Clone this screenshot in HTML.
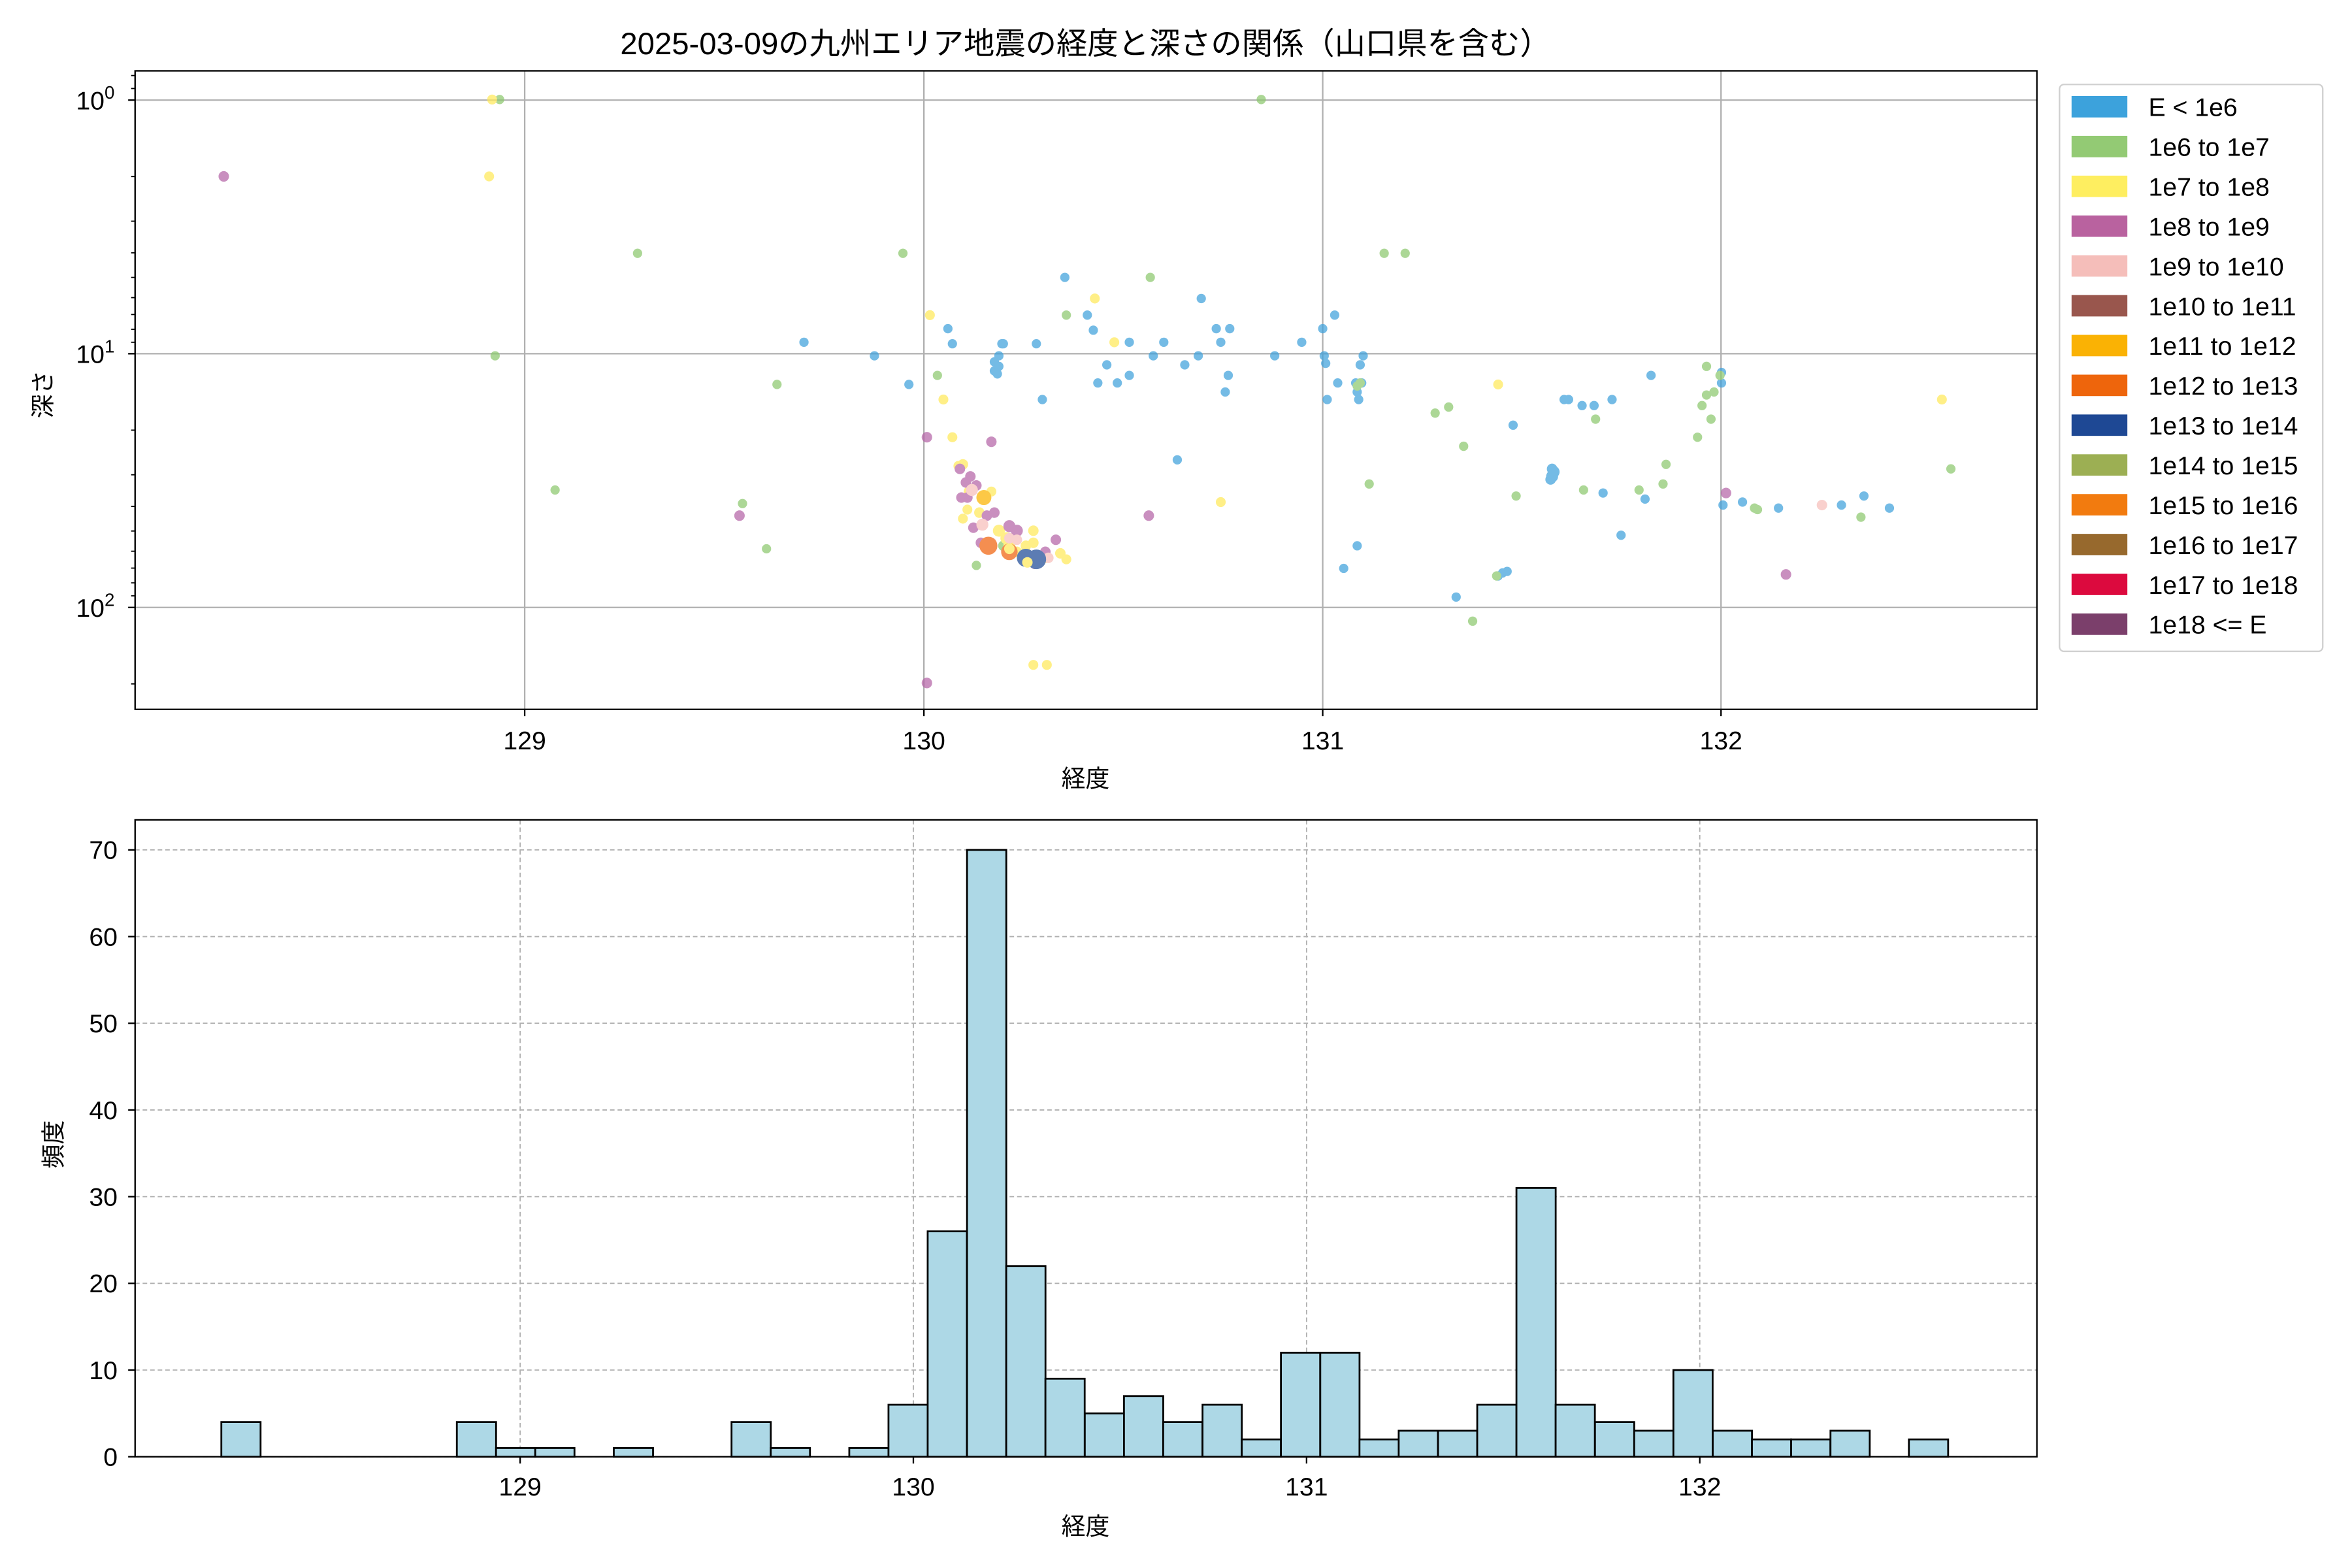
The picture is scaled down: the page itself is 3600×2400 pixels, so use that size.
<!DOCTYPE html>
<html><head><meta charset="utf-8"><style>
html,body{margin:0;padding:0;background:#fff;}
svg{display:block;}
text{font-family:"Liberation Sans","Noto Sans CJK JP",sans-serif;fill:#000;}
</style></head><body>
<svg width="3600" height="2400" viewBox="0 0 1560 1040" xmlns="http://www.w3.org/2000/svg">
<rect width="1560" height="1040" fill="#fff"/>
<text x="720" y="36" font-size="20.5" text-anchor="middle">2025-03-09の九州エリア地震の経度と深さの関係（山口県を含む）</text>

<!-- TOP AXES -->
<g stroke="#b0b0b0" stroke-width="1">
<line x1="348" y1="47" x2="348" y2="470.5"/><line x1="612.8" y1="47" x2="612.8" y2="470.5"/>
<line x1="877.3" y1="47" x2="877.3" y2="470.5"/><line x1="1141.5" y1="47" x2="1141.5" y2="470.5"/>
<line x1="89.6" y1="66.4" x2="1351" y2="66.4"/><line x1="89.6" y1="234.6" x2="1351" y2="234.6"/><line x1="89.6" y1="402.9" x2="1351" y2="402.9"/>
</g>
<g transform="translate(612.8 0) scale(0.9944 1) translate(-615 0)" stroke-width="1" opacity="0.72">
<g fill="#3fa1dc" stroke="#3fa1dc">
<circle cx="535" cy="227" r="2.6"/><circle cx="582" cy="236" r="2.6"/><circle cx="605" cy="255" r="2.6"/><circle cx="631" cy="218" r="2.6"/><circle cx="634" cy="228" r="2.6"/><circle cx="662" cy="240" r="2.6"/><circle cx="662" cy="246" r="2.6"/><circle cx="664" cy="248" r="2.6"/><circle cx="665" cy="243" r="2.6"/><circle cx="667" cy="228" r="2.6"/><circle cx="665" cy="236" r="2.6"/><circle cx="668" cy="228" r="2.6"/><circle cx="690" cy="228" r="2.6"/><circle cx="694" cy="265" r="2.6"/><circle cx="709" cy="184" r="2.6"/><circle cx="724" cy="209" r="2.6"/><circle cx="728" cy="219" r="2.6"/><circle cx="731" cy="254" r="2.6"/><circle cx="737" cy="242" r="2.6"/><circle cx="744" cy="254" r="2.6"/><circle cx="752" cy="227" r="2.6"/><circle cx="752" cy="249" r="2.6"/><circle cx="768" cy="236" r="2.6"/><circle cx="775" cy="227" r="2.6"/><circle cx="784" cy="305" r="2.6"/><circle cx="789" cy="242" r="2.6"/><circle cx="798" cy="236" r="2.6"/><circle cx="810" cy="218" r="2.6"/><circle cx="813" cy="227" r="2.6"/><circle cx="816" cy="260" r="2.6"/><circle cx="818" cy="249" r="2.6"/><circle cx="819" cy="218" r="2.6"/><circle cx="800" cy="198" r="2.6"/><circle cx="849" cy="236" r="2.6"/><circle cx="867" cy="227" r="2.6"/><circle cx="881" cy="218" r="2.6"/><circle cx="882" cy="236" r="2.6"/><circle cx="883" cy="241" r="2.6"/><circle cx="884" cy="265" r="2.6"/><circle cx="889" cy="209" r="2.6"/><circle cx="891" cy="254" r="2.6"/><circle cx="903" cy="254" r="2.6"/><circle cx="904" cy="260" r="2.6"/><circle cx="905" cy="265" r="2.6"/><circle cx="906" cy="242" r="2.6"/><circle cx="907" cy="254" r="2.6"/><circle cx="908" cy="236" r="2.6"/><circle cx="904" cy="362" r="2.6"/><circle cx="895" cy="377" r="2.6"/><circle cx="970" cy="396" r="2.6"/><circle cx="998" cy="382" r="2.6"/><circle cx="1001" cy="380" r="2.6"/><circle cx="1004" cy="379" r="2.6"/><circle cx="1008" cy="282" r="2.6"/><circle cx="1034" cy="316" r="3.5"/><circle cx="1035" cy="313" r="3.5"/><circle cx="1034" cy="311" r="3"/><circle cx="1033" cy="318" r="3"/><circle cx="1042" cy="265" r="2.6"/><circle cx="1045" cy="265" r="2.6"/><circle cx="1054" cy="269" r="2.6"/><circle cx="1062" cy="269" r="2.6"/><circle cx="1074" cy="265" r="2.6"/><circle cx="1068" cy="327" r="2.6"/><circle cx="1080" cy="355" r="2.6"/><circle cx="1096" cy="331" r="2.6"/><circle cx="1100" cy="249" r="2.6"/><circle cx="1148" cy="335" r="2.6"/><circle cx="1147" cy="247" r="2.6"/><circle cx="1147" cy="254" r="2.6"/><circle cx="1161" cy="333" r="2.6"/><circle cx="1185" cy="337" r="2.6"/><circle cx="1227" cy="335" r="2.6"/><circle cx="1242" cy="329" r="2.6"/><circle cx="1259" cy="337" r="2.6"/>
</g>
<g fill="#8dc96f" stroke="#8dc96f">
<circle cx="332" cy="66" r="2.6"/><circle cx="329" cy="236" r="2.6"/><circle cx="369" cy="325" r="2.6"/><circle cx="424" cy="168" r="2.6"/><circle cx="494" cy="334" r="2.6"/><circle cx="510" cy="364" r="2.6"/><circle cx="517" cy="255" r="2.6"/><circle cx="601" cy="168" r="2.6"/><circle cx="624" cy="249" r="2.6"/><circle cx="650" cy="375" r="2.6"/><circle cx="710" cy="209" r="2.6"/><circle cx="766" cy="184" r="2.6"/><circle cx="840" cy="66" r="2.6"/><circle cx="904" cy="256" r="2.6"/><circle cx="906" cy="254" r="2.6"/><circle cx="912" cy="321" r="2.6"/><circle cx="922" cy="168" r="2.6"/><circle cx="936" cy="168" r="2.6"/><circle cx="956" cy="274" r="2.6"/><circle cx="965" cy="270" r="2.6"/><circle cx="975" cy="296" r="2.6"/><circle cx="981" cy="412" r="2.6"/><circle cx="997" cy="382" r="2.6"/><circle cx="1010" cy="329" r="2.6"/><circle cx="1055" cy="325" r="2.6"/><circle cx="1063" cy="278" r="2.6"/><circle cx="1092" cy="325" r="2.6"/><circle cx="1108" cy="321" r="2.6"/><circle cx="1110" cy="308" r="2.6"/><circle cx="1131" cy="290" r="2.6"/><circle cx="1134" cy="269" r="2.6"/><circle cx="1137" cy="262" r="2.6"/><circle cx="1137" cy="243" r="2.6"/><circle cx="1140" cy="278" r="2.6"/><circle cx="1142" cy="260" r="2.6"/><circle cx="1169" cy="337" r="2.6"/><circle cx="1171" cy="338" r="2.6"/><circle cx="1240" cy="343" r="2.6"/><circle cx="1300" cy="311" r="2.6"/><circle cx="1146" cy="249" r="2.6"/><circle cx="668" cy="362" r="3"/>
</g>
<g fill="#ffe95a" stroke="#ffe95a">
<circle cx="327" cy="66" r="2.8"/><circle cx="325" cy="117" r="2.8"/><circle cx="619" cy="209" r="2.8"/><circle cx="628" cy="265" r="2.8"/><circle cx="634" cy="290" r="2.8"/><circle cx="638" cy="309" r="2.8"/><circle cx="641" cy="344" r="2.8"/><circle cx="644" cy="338" r="2.8"/><circle cx="660" cy="326" r="2.8"/><circle cx="710" cy="371" r="2.8"/><circle cx="688" cy="441" r="2.8"/><circle cx="697" cy="441" r="2.8"/><circle cx="729" cy="198" r="2.8"/><circle cx="742" cy="227" r="2.8"/><circle cx="813" cy="333" r="2.8"/><circle cx="998" cy="255" r="2.8"/><circle cx="1294" cy="265" r="2.8"/>
<circle cx="641" cy="308" r="3"/><circle cx="645" cy="326" r="3"/><circle cx="652" cy="340" r="3"/><circle cx="665" cy="352" r="3.5"/><circle cx="670" cy="357" r="3.5"/><circle cx="672" cy="362" r="3.5"/><circle cx="677" cy="366" r="3"/><circle cx="688" cy="352" r="3"/><circle cx="688" cy="360" r="3"/><circle cx="696" cy="370" r="3"/><circle cx="706" cy="367" r="3"/><circle cx="657" cy="364" r="3"/><circle cx="683" cy="362" r="3"/>
</g>
<g fill="#b565a7" stroke="#b565a7">
<circle cx="148" cy="117" r="3"/><circle cx="492" cy="342" r="3"/><circle cx="617" cy="290" r="3"/><circle cx="617" cy="453" r="3"/><circle cx="639" cy="311" r="3"/><circle cx="646" cy="316" r="3"/><circle cx="660" cy="293" r="3"/><circle cx="650" cy="322" r="3"/><circle cx="644" cy="330" r="3"/><circle cx="662" cy="340" r="3"/><circle cx="703" cy="358" r="3"/><circle cx="765" cy="342" r="3"/><circle cx="1150" cy="327" r="3"/><circle cx="1190" cy="381" r="3"/>
<circle cx="643" cy="320" r="3"/><circle cx="640" cy="330" r="3"/><circle cx="657" cy="342" r="3"/><circle cx="648" cy="350" r="3"/><circle cx="672" cy="349" r="3.5"/><circle cx="677" cy="352" r="3.5"/><circle cx="653" cy="360" r="3"/><circle cx="689" cy="374" r="3"/><circle cx="696" cy="366" r="3"/>
</g>
<g fill="#f7bfba" stroke="#f7bfba">
<circle cx="1214" cy="335" r="3"/><circle cx="647" cy="325" r="3.5"/><circle cx="654" cy="348" r="3.5"/><circle cx="660" cy="360" r="3"/><circle cx="672" cy="357" r="3"/><circle cx="677" cy="358" r="3"/><circle cx="687" cy="370" r="3"/><circle cx="698" cy="370" r="3"/>
</g>
<g fill="#fbb400" stroke="#fbb400"><circle cx="655" cy="330" r="4.5"/></g>
<g fill="#f0640e" stroke="#f0640e"><circle cx="658" cy="362" r="5.5"/><circle cx="672" cy="366" r="5"/></g>
<g fill="#1e4a96" stroke="#1e4a96"><circle cx="683" cy="370" r="5.5"/><circle cx="690" cy="371" r="6"/></g>
<g fill="#ffe95a" stroke="#ffe95a"><circle cx="684" cy="373" r="3"/><circle cx="672" cy="364" r="3"/></g>
</g>
<rect x="89.6" y="47" width="1261.4" height="423.5" fill="none" stroke="#000" stroke-width="1"/>
<g stroke="#000" stroke-width="1">
<line x1="348" y1="470.5" x2="348" y2="475"/><line x1="612.8" y1="470.5" x2="612.8" y2="475"/><line x1="877.3" y1="470.5" x2="877.3" y2="475"/><line x1="1141.5" y1="470.5" x2="1141.5" y2="475"/>
<line x1="85" y1="66.4" x2="89.6" y2="66.4"/><line x1="85" y1="234.6" x2="89.6" y2="234.6"/><line x1="85" y1="402.9" x2="89.6" y2="402.9"/>
<g stroke-width="0.8">
<line x1="87" y1="50.1" x2="89.6" y2="50.1"/><line x1="87" y1="58.7" x2="89.6" y2="58.7"/>
<line x1="87" y1="117.1" x2="89.6" y2="117.1"/><line x1="87" y1="146.7" x2="89.6" y2="146.7"/><line x1="87" y1="167.7" x2="89.6" y2="167.7"/><line x1="87" y1="184" x2="89.6" y2="184"/><line x1="87" y1="197.4" x2="89.6" y2="197.4"/><line x1="87" y1="208.6" x2="89.6" y2="208.6"/><line x1="87" y1="218.4" x2="89.6" y2="218.4"/><line x1="87" y1="227"  x2="89.6" y2="227"/>
<line x1="87" y1="285.3" x2="89.6" y2="285.3"/><line x1="87" y1="314.9" x2="89.6" y2="314.9"/><line x1="87" y1="335.9" x2="89.6" y2="335.9"/><line x1="87" y1="352.2" x2="89.6" y2="352.2"/><line x1="87" y1="365.6" x2="89.6" y2="365.6"/><line x1="87" y1="376.8" x2="89.6" y2="376.8"/><line x1="87" y1="386.6" x2="89.6" y2="386.6"/><line x1="87" y1="395.2" x2="89.6" y2="395.2"/>
<line x1="87" y1="453.6" x2="89.6" y2="453.6"/>
</g></g>
<g font-size="17" text-anchor="middle">
<text x="348" y="497">129</text><text x="612.8" y="497">130</text><text x="877.3" y="497">131</text><text x="1141.5" y="497">132</text>
</g>
<g font-size="17" text-anchor="end">
<text x="76" y="72.5">10<tspan font-size="12" dy="-7">0</tspan></text>
<text x="76" y="240.7">10<tspan font-size="12" dy="-7">1</tspan></text>
<text x="76" y="409">10<tspan font-size="12" dy="-7">2</tspan></text>
</g>
<text x="720" y="522" font-size="16" text-anchor="middle">経度</text>
<text transform="translate(34 261.5) rotate(-90)" font-size="16" text-anchor="middle">深さ</text>

<!-- legend -->
<rect x="1366" y="56" width="174.6" height="376" rx="3" fill="#fff" stroke="#d0d0d0" stroke-width="1"/>
<g>
<rect x="1374" y="63.7" width="37" height="14.2" fill="#3ca2dc"/>
<rect x="1374" y="90.1" width="37" height="14.2" fill="#93ca74"/>
<rect x="1374" y="116.5" width="37" height="14.2" fill="#feee60"/>
<rect x="1374" y="142.9" width="37" height="14.2" fill="#b9629f"/>
<rect x="1374" y="169.3" width="37" height="14.2" fill="#f5beba"/>
<rect x="1374" y="195.7" width="37" height="14.2" fill="#99564d"/>
<rect x="1374" y="222.1" width="37" height="14.2" fill="#fab204"/>
<rect x="1374" y="248.5" width="37" height="14.2" fill="#ee650c"/>
<rect x="1374" y="274.9" width="37" height="14.2" fill="#1e4894"/>
<rect x="1374" y="301.3" width="37" height="14.2" fill="#9caf53"/>
<rect x="1374" y="327.7" width="37" height="14.2" fill="#f27b0f"/>
<rect x="1374" y="354.1" width="37" height="14.2" fill="#97692d"/>
<rect x="1374" y="380.5" width="37" height="14.2" fill="#dc0a3e"/>
<rect x="1374" y="406.9" width="37" height="14.2" fill="#7b3f6b"/>
</g>
<g font-size="17">
<text x="1425" y="77">E &lt; 1e6</text><text x="1425" y="103.4">1e6 to 1e7</text><text x="1425" y="129.8">1e7 to 1e8</text><text x="1425" y="156.2">1e8 to 1e9</text><text x="1425" y="182.6">1e9 to 1e10</text><text x="1425" y="209">1e10 to 1e11</text><text x="1425" y="235.4">1e11 to 1e12</text><text x="1425" y="261.8">1e12 to 1e13</text><text x="1425" y="288.2">1e13 to 1e14</text><text x="1425" y="314.6">1e14 to 1e15</text><text x="1425" y="341">1e15 to 1e16</text><text x="1425" y="367.4">1e16 to 1e17</text><text x="1425" y="393.8">1e17 to 1e18</text><text x="1425" y="420.2">1e18 &lt;= E</text>
</g>

<!-- BOTTOM AXES -->
<g stroke="#b0b0b0" stroke-width="0.8" stroke-dasharray="3,2">
<line x1="345" y1="543.8" x2="345" y2="966.2"/><line x1="605.8" y1="543.8" x2="605.8" y2="966.2"/><line x1="866.6" y1="543.8" x2="866.6" y2="966.2"/><line x1="1127.4" y1="543.8" x2="1127.4" y2="966.2"/>
<line x1="89.6" y1="966.2" x2="1351" y2="966.2"/><line x1="89.6" y1="908.7" x2="1351" y2="908.7"/><line x1="89.6" y1="851.2" x2="1351" y2="851.2"/><line x1="89.6" y1="793.7" x2="1351" y2="793.7"/><line x1="89.6" y1="736.2" x2="1351" y2="736.2"/><line x1="89.6" y1="678.7" x2="1351" y2="678.7"/><line x1="89.6" y1="621.2" x2="1351" y2="621.2"/><line x1="89.6" y1="563.7" x2="1351" y2="563.7"/>
</g>
<g fill="#add8e6" stroke="#000" stroke-width="1.2">
<rect x="146.8" y="943.2" width="26.03" height="23"/>
<rect x="303" y="943.2" width="26.03" height="23"/>
<rect x="329" y="960.45" width="26.03" height="5.75"/>
<rect x="355" y="960.45" width="26.03" height="5.75"/>
<rect x="407.1" y="960.45" width="26.03" height="5.75"/>
<rect x="485.2" y="943.2" width="26.03" height="23"/>
<rect x="511.2" y="960.45" width="26.03" height="5.75"/>
<rect x="563.3" y="960.45" width="26.03" height="5.75"/>
<rect x="589.3" y="931.7" width="26.03" height="34.5"/>
<rect x="615.3" y="816.7" width="26.03" height="149.5"/>
<rect x="641.4" y="563.7" width="26.03" height="402.5"/>
<rect x="667.4" y="839.7" width="26.03" height="126.5"/>
<rect x="693.4" y="914.45" width="26.03" height="51.75"/>
<rect x="719.5" y="937.45" width="26.03" height="28.75"/>
<rect x="745.5" y="925.95" width="26.03" height="40.25"/>
<rect x="771.5" y="943.2" width="26.03" height="23"/>
<rect x="797.6" y="931.7" width="26.03" height="34.5"/>
<rect x="823.6" y="954.7" width="26.03" height="11.5"/>
<rect x="849.6" y="897.2" width="26.03" height="69"/>
<rect x="875.7" y="897.2" width="26.03" height="69"/>
<rect x="901.7" y="954.7" width="26.03" height="11.5"/>
<rect x="927.7" y="948.95" width="26.03" height="17.25"/>
<rect x="953.8" y="948.95" width="26.03" height="17.25"/>
<rect x="979.8" y="931.7" width="26.03" height="34.5"/>
<rect x="1005.8" y="787.95" width="26.03" height="178.25"/>
<rect x="1031.8" y="931.7" width="26.03" height="34.5"/>
<rect x="1057.9" y="943.2" width="26.03" height="23"/>
<rect x="1083.9" y="948.95" width="26.03" height="17.25"/>
<rect x="1109.9" y="908.7" width="26.03" height="57.5"/>
<rect x="1136" y="948.95" width="26.03" height="17.25"/>
<rect x="1162" y="954.7" width="26.03" height="11.5"/>
<rect x="1188" y="954.7" width="26.03" height="11.5"/>
<rect x="1214.1" y="948.95" width="26.03" height="17.25"/>
<rect x="1266.1" y="954.7" width="26.03" height="11.5"/>
</g>
<rect x="89.6" y="543.8" width="1261.4" height="422.4" fill="none" stroke="#000" stroke-width="1"/>
<g stroke="#000" stroke-width="1">
<line x1="345" y1="966.2" x2="345" y2="970.7"/><line x1="605.8" y1="966.2" x2="605.8" y2="970.7"/><line x1="866.6" y1="966.2" x2="866.6" y2="970.7"/><line x1="1127.4" y1="966.2" x2="1127.4" y2="970.7"/>
<line x1="85" y1="966.2" x2="89.6" y2="966.2"/><line x1="85" y1="908.7" x2="89.6" y2="908.7"/><line x1="85" y1="851.2" x2="89.6" y2="851.2"/><line x1="85" y1="793.7" x2="89.6" y2="793.7"/><line x1="85" y1="736.2" x2="89.6" y2="736.2"/><line x1="85" y1="678.7" x2="89.6" y2="678.7"/><line x1="85" y1="621.2" x2="89.6" y2="621.2"/><line x1="85" y1="563.7" x2="89.6" y2="563.7"/>
</g>
<g font-size="17" text-anchor="middle">
<text x="345" y="992">129</text><text x="605.8" y="992">130</text><text x="866.6" y="992">131</text><text x="1127.4" y="992">132</text>
</g>
<g font-size="17" text-anchor="end">
<text x="78" y="972.2">0</text><text x="78" y="914.7">10</text><text x="78" y="857.2">20</text><text x="78" y="799.7">30</text><text x="78" y="742.2">40</text><text x="78" y="684.7">50</text><text x="78" y="627.2">60</text><text x="78" y="569.7">70</text>
</g>
<text x="720" y="1018" font-size="16" text-anchor="middle">経度</text>
<text transform="translate(41 759) rotate(-90)" font-size="16" text-anchor="middle">頻度</text>
</svg>
</body></html>
